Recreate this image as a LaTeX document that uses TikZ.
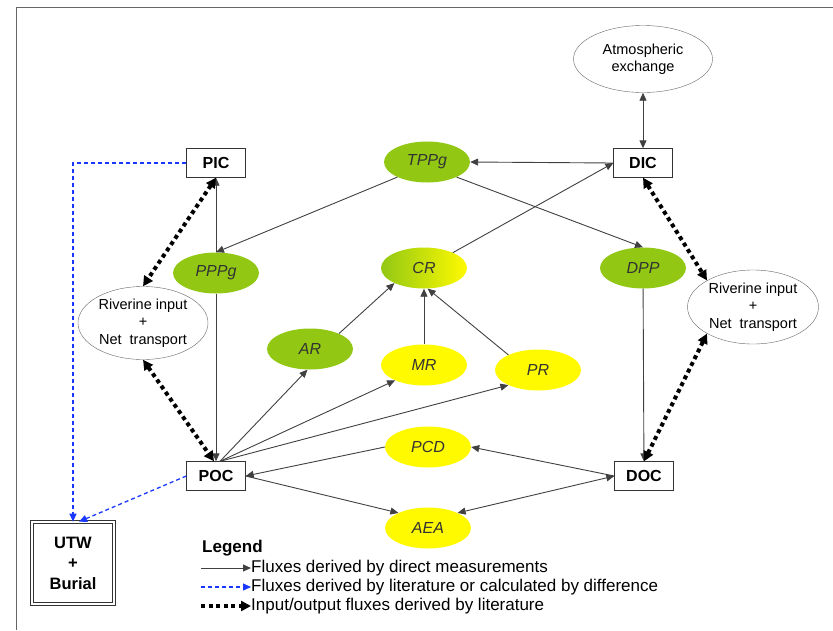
\documentclass[tikz,border=0pt]{standalone}
\usepackage{fontspec}
\setmainfont{Liberation Sans}
\usepackage{xcolor}
\usepackage{tikz}
\usetikzlibrary{positioning, arrows.meta, shapes.geometric, calc}
\definecolor{leafgreen}{RGB}{146,200,20}
\definecolor{procyellow}{RGB}{255,250,0}
\definecolor{litblue}{RGB}{25,55,255}
\tikzset{pool/.style={
    rectangle,
    draw=black!80,
    fill=white,
    minimum width=59pt,
    minimum height=29pt,
    inner sep=0pt,
    font=\fontsize{16}{19}\selectfont\bfseries
}}
\tikzset{greenproc/.style={
    ellipse,
    fill=leafgreen,
    minimum width=86pt,
    minimum height=41pt,
    inner sep=0pt,
    text=black!80,
    font=\fontsize{16}{18}\selectfont\itshape
}}
\tikzset{yellowproc/.style={
    greenproc,
    fill=procyellow
}}
\tikzset{source/.style={
    ellipse,
    draw=black!60,
    fill=white,
    inner sep=0pt,
    align=center,
    font=\fontsize{14.5}{17.5}\selectfont
}}
\tikzset{flux/.style={->, black!75, line width=0.9pt}}
\tikzset{litflux/.style={->, color=litblue, line width=1.3pt, dash pattern=on 4pt off 3pt}}
\tikzset{ioline/.style={black, line width=4pt, dash pattern=on 4pt off 3.5pt}}
\tikzset{ioflux/.style={
    ioline,
    {Triangle[length=10pt,width=10pt]}-{Triangle[length=10pt,width=10pt]}
}}

\tikzset{legendtext/.style={anchor=west, inner sep=0pt, font=\fontsize{17}{20}\selectfont}}

\begin{document}
\begin{tikzpicture}[
    x=1pt, y=-1pt,
    >={Triangle[length=8pt,width=7pt]},
    text=black
]
    \useasboundingbox (0,0) rectangle (833,630);
    % frame
    \draw [black!60, line width=1pt] (16,630) -- (16,7) -- (833,7);

    % pools
    \node (PIC) [pool] at (216,163) {PIC};
    \node (DIC) [pool] at (643,163) {DIC};
    \node (POC) [pool] at (216,476) {POC};
    \node (DOC) [pool] at (644,476) {DOC};
    \node (UTW) [pool, align=center, minimum width=82pt, minimum height=82pt,
        double=white, double distance=2pt, line width=0.7pt,
        font=\fontsize{16.5}{20.5}\selectfont\bfseries] at (73,563) {UTW\\+\\Burial};

    % sources
    \node (ATM) [source, minimum width=139pt, minimum height=67pt] at (643,59)
        {Atmospheric\\exchange};
    \node (RivL) [source, minimum width=130pt, minimum height=73pt] at (143,323)
        {Riverine input\\+\\Net~ transport};
    \node (RivR) [source, minimum width=131pt, minimum height=74pt] at (753,307)
        {Riverine input\\+\\Net~ transport};

    % processes
    \node (TPPg) [greenproc] at (427,162) {TPPg};
    \node (PPPg) [greenproc] at (216,273) {PPPg};
    \node (DPP) [greenproc] at (643,268) {DPP};
    \node (CR) [greenproc, fill=none, left color=leafgreen, right color=procyellow] at (424,268) {CR};
    \node (AR) [greenproc] at (310,349) {AR};
    \node (MR) [yellowproc] at (424,365) {MR};
    \node (PR) [yellowproc] at (538,370) {PR};
    \node (PCD) [yellowproc] at (428,447) {PCD};
    \node (AEA) [yellowproc] at (428,528) {AEA};

    % measured fluxes
    \draw [flux, <->] (DIC.north) -- (ATM.south);
    \draw [flux] (DIC.west) -- (TPPg.east);
    \draw [flux] (CR.28) -- (DIC.west);
    \draw [flux] (TPPg.207) -- (PPPg.north);
    \draw [flux] (TPPg.-27) -- (DPP.north);
    \draw [flux] (PPPg) -- (PIC);
    \draw [flux] (PPPg) -- (POC);
    \draw [flux] (DPP) -- (DOC);
    \draw [flux] (AR.28) -- (CR.207);
    \draw [flux] (MR) -- (CR);
    \draw [flux] (PR.153) -- (CR.-80);
    \draw [flux] ([xshift=4pt]POC.north) -- (AR.-97);
    \draw [flux] ([xshift=4pt]POC.north) -- (MR.208);
    \draw [flux] ([xshift=4pt]POC.north) -- (PR.207);
    \draw [flux] (DOC.west) -- (PCD.east);
    \draw [flux] (PCD.west) -- (POC.east);
    \draw [flux] (POC.east) -- (AEA.153);
    \draw [flux, <->] (AEA.27) -- (DOC.west);

    % literature fluxes
    \draw [litflux] (PIC.west) -| (UTW.north);
    \draw [litflux] (POC.west) -- ([xshift=6pt]UTW.north);

    % input/output fluxes
    \draw [ioflux] (PIC.south) -- (RivL.north);
    \draw [ioflux] (RivL.south) -- ([xshift=-2pt]POC.north);
    \draw [ioflux] (DIC.south) -- (RivR.150);
    \draw [ioflux] (RivR.210) -- (DOC.north);

    % legend
    \node (legT) [legendtext, font=\fontsize{17}{20}\selectfont\bfseries] at (202,548) {Legend};
    \node (legA) [legendtext] at (251,568) {Fluxes derived by direct measurements};
    \node (legB) [legendtext] at (251,587) {Fluxes derived by literature or calculated by difference};
    \node (legC) [legendtext] at (251,606) {Input/output fluxes derived by literature};
    \draw [flux] ([xshift=-50pt]legA.west) -- (legA.west);
    \draw [litflux] ([xshift=-50pt]legB.west) -- (legB.west);
    \draw [ioline, -{Triangle[length=10pt,width=10pt]}] ([xshift=-50pt]legC.west) -- (legC.west);
\end{tikzpicture}
\end{document}
